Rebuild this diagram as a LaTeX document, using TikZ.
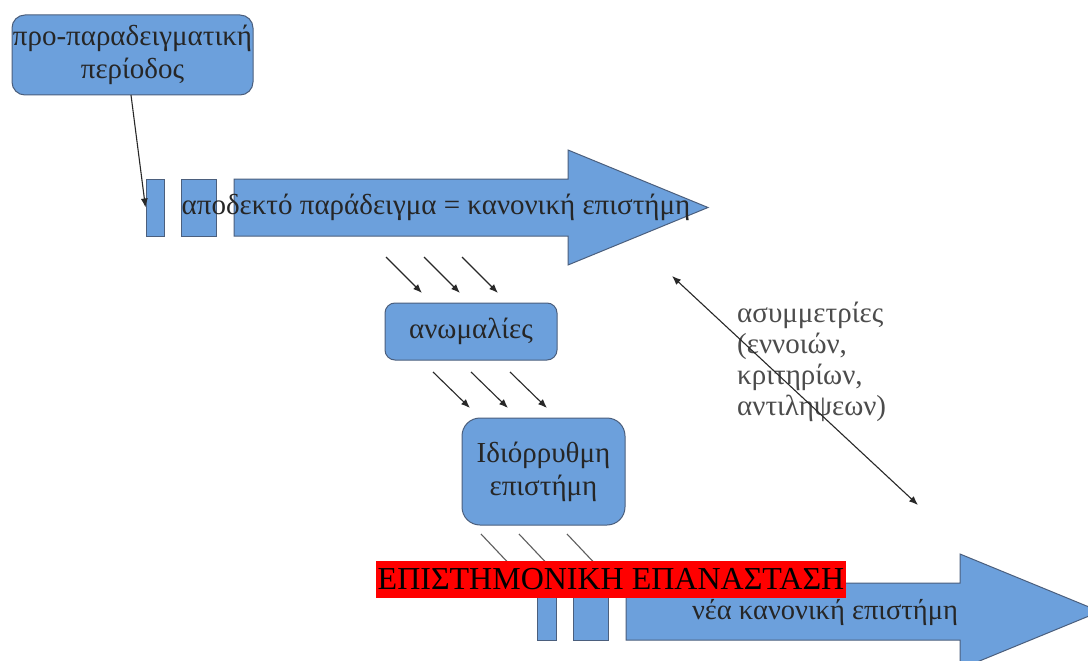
\documentclass[tikz,border=0pt]{standalone}
\usepackage{fontspec}
\setmainfont{Liberation Serif}
\usetikzlibrary{arrows.meta}
\definecolor{boxblue}{RGB}{108,160,220}
\definecolor{boxline}{RGB}{75,95,125}
\definecolor{conn}{RGB}{40,40,40}
\tikzset{
  bluebox/.style={draw=boxline, line width=1pt, fill=boxblue, rounded corners=#1, align=center, inner sep=0pt, text=black!85, font=\fontsize{29}{33}\selectfont},
  bluebox/.default=12pt,
  plainrect/.style={draw=boxline, line width=1pt, fill=boxblue, inner sep=0pt},
  bigarrow/.style={draw=boxline, line width=1pt, fill=boxblue},
  conn/.style={draw=conn, line width=1.1pt, -{Latex[length=9pt,width=7pt]}},
  connfaint/.style={draw=conn!75, line width=1.1pt, -{Latex[length=9pt,width=7pt]}},
  biconn/.style={draw=conn, line width=1.1pt, {Latex[length=9pt,width=7pt]}-{Latex[length=9pt,width=7pt]}},
  label/.style={font=\fontsize{29}{31}\selectfont, inner sep=0pt, text=black!85}
}
\begin{document}
\begin{tikzpicture}[x=1pt,y=-1pt]
\clip (0,0) rectangle (1088,661);
\fill[white] (0,0) rectangle (1088,661);

% top arrow group
\node[plainrect, minimum width=18pt, minimum height=57pt] (r1) at (155,207.5) {};
\node[plainrect, minimum width=35pt, minimum height=57pt] (r2) at (198.5,207.5) {};
\draw[bigarrow] (234,179) -- (568,179) -- (568,150) -- (708,207.5) -- (568,265) -- (568,236) -- (234,236) -- cycle;
\node[label] (t1) at (436,207.5) {αποδεκτό παράδειγμα = κανονική επιστήμη};

% bottom arrow group
\node[plainrect, minimum width=19pt, minimum height=57pt] (r3) at (546.5,611.5) {};
\node[plainrect, minimum width=35pt, minimum height=57pt] (r4) at (590.5,611.5) {};
\draw[bigarrow] (626,583) -- (960,583) -- (960,554) -- (1100,611.5) -- (960,669) -- (960,640) -- (626,640) -- cycle;
\node[label, font=\fontsize{28.5}{31}\selectfont] (t2) at (825,612) {νέα κανονική επιστήμη};

% boxes
\node[bluebox=13pt, minimum width=241pt, minimum height=80pt] (pro) at (132.5,55) {προ-παραδειγματική\\περίοδος};
\node[bluebox=10pt, minimum width=172pt, minimum height=57pt] (anom) at (471,331.5) {ανωμαλίες};
\node[bluebox=18pt, minimum width=163pt, minimum height=107pt] (idio) at (543.5,471.5) {Ιδιόρρυθμη\\επιστήμη};

% connectors
\draw[conn] (131,95) -- (r1.west);

\coordinate (a1s) at (386,257); \coordinate (a1e) at (422,293);
\coordinate (a2s) at (424,257); \coordinate (a2e) at (460,293);
\coordinate (a3s) at (462,257); \coordinate (a3e) at (498,293);
\draw[conn] (a1s) -- (a1e);
\draw[conn] (a2s) -- (a2e);
\draw[conn] (a3s) -- (a3e);

\coordinate (b1s) at (433,372); \coordinate (b1e) at (470,408);
\coordinate (b2s) at (471,372); \coordinate (b2e) at (508,408);
\coordinate (b3s) at (510,372); \coordinate (b3e) at (547,408);
\draw[conn] (b1s) -- (b1e);
\draw[conn] (b2s) -- (b2e);
\draw[conn] (b3s) -- (b3e);

\coordinate (c1s) at (481,534); \coordinate (c1e) at (515,570);
\coordinate (c2s) at (519,534); \coordinate (c2e) at (553,570);
\coordinate (c3s) at (567,534); \coordinate (c3e) at (601,570);
\draw[connfaint] (c1s) -- (c1e);
\draw[connfaint] (c2s) -- (c2e);
\draw[connfaint] (c3s) -- (c3e);

% asymmetries
\node[label, align=left, anchor=west, text=black!70] (asym) at (737,362) {ασυμμετρίες\\(εννοιών,\\κριτηρίων,\\αντιληψεων)};
\coordinate (d1) at (672,276); \coordinate (d2) at (918,505);
\draw[biconn] (d1) -- (d2);

% red label
\node[fill=red, text=black, inner sep=0pt, minimum width=470pt, minimum height=37pt, font=\fontsize{32}{32}\selectfont] (rev) at (611,579) {ΕΠΙΣΤΗΜΟΝΙΚΗ ΕΠΑΝΑΣΤΑΣΗ};
\end{tikzpicture}
\end{document}
